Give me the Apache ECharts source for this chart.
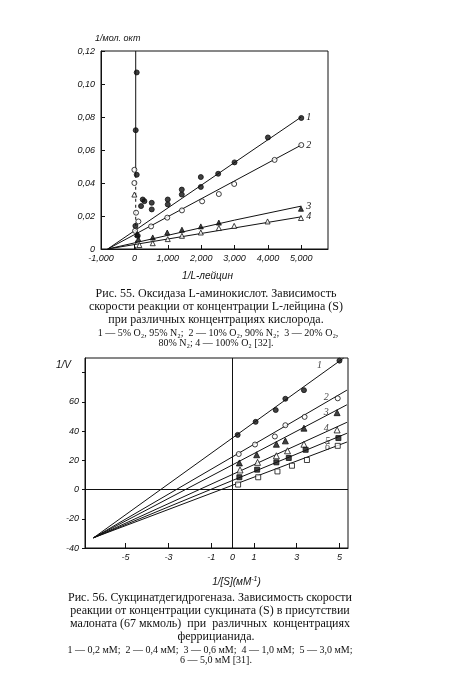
<!DOCTYPE html>
<html>
<head>
<meta charset="utf-8">
<script src="https://cdn.jsdelivr.net/npm/echarts@6/dist/echarts.min.js"></script>
<style>
  html, body { margin: 0; padding: 0; background: #fff; }
  #chart { width: 450px; height: 679px; }
</style>
</head>
<body>
<div id="chart"></div>
<script>
  // ---- fig. 55: L-amino acid oxidase, 1/v vs 1/[L-leucine] ----
  var topXTicks = [-1000, 0, 1000, 2000, 3000, 4000, 5000]
  var topXLabels = ['-1,000', '0', '1,000', '2,000', '3,000', '4,000', '5,000']
  var topYTicks = [0, 0.02, 0.04, 0.06, 0.08, 0.1, 0.12]
  var topYLabels = ['0', '0,02', '0,04', '0,06', '0,08', '0,10', '0,12']
  var topNames = ['1', '2', '3', '4']

  var o2Pts1 = [[70, 0.107], [40, 0.072], [70, 0.045], [30, 0.014], [100, 0.008], [200, 0.026],
    [250, 0.030], [300, 0.029], [520, 0.028], [520, 0.024], [1000, 0.030], [1000, 0.027],
    [1420, 0.036], [1420, 0.033], [1990, 0.0436], [1990, 0.0376], [2510, 0.0456],
    [3000, 0.0525], [4000, 0.0676], [5000, 0.0794]]
  var o2Pts2 = [[0, 0.048], [0, 0.040], [50, 0.022], [120, 0.0167], [20, 0.011], [500, 0.0137],
    [985, 0.019], [1425, 0.0234], [2030, 0.0289], [2530, 0.0333], [2990, 0.0394],
    [4200, 0.054], [5000, 0.063]]
  var o2Pts3 = [[80, 0.009], [120, 0.006], [550, 0.007], [985, 0.010], [1425, 0.0117],
    [1990, 0.0137], [2530, 0.016], [4990, 0.0244]]
  var o2Pts4 = [[0, 0.033], [150, 0.0024], [550, 0.0035], [1000, 0.006], [1425, 0.008],
    [1990, 0.010], [2530, 0.0127], [2990, 0.014], [3990, 0.0167], [4990, 0.0188]]

  var o2Line1 = [[-800, 0], [5000, 0.080]]
  var o2Line2 = [[-800, 0], [5000, 0.063]]
  var o2Line3 = [[-800, 0], [3000, 0.0175], [5000, 0.026]]
  var o2Line4 = [[-800, 0], [5000, 0.0195]]
  var o2Vert = [[40, 0.12], [40, 0.045]]
  var o2VertDash = [[40, 0.045], [40, 0]]

  // ---- fig. 56: succinate dehydrogenase, 1/V vs 1/[S] ----
  var botXTicks = [-5, -3, -1, 0, 1, 3, 5]
  var botXLabels = ['-5', '-3', '-1', '0', '1', '3', '5']
  var botYTicks = [-40, -20, 0, 20, 40, 60, 80]
  var botYLabels = ['-40', '-20', '0', '20', '40', '60', '']
  var botNames = ['1', '2', '3', '4', '5', '6']

  var fePts1 = [[0.24, 37.4], [1.08, 46.3], [2.02, 54.4], [2.47, 62.1], [3.34, 68], [5.0, 88.2]]
  var fePts2 = [[0.29, 24.3], [1.05, 30.8], [1.98, 36.3], [2.47, 44], [3.37, 49.7], [4.92, 62.4]]
  var fePts3 = [[0.32, 18.2], [1.13, 23.8], [2.05, 31], [2.47, 33.3], [3.34, 42], [4.89, 52.6]]
  var fePts4 = [[0.35, 13.4], [1.17, 18.6], [2.05, 23.1], [2.57, 26.5], [3.34, 31], [4.89, 40.8]]
  var fePts5 = [[0.32, 8.4], [1.15, 13.6], [2.05, 18.6], [2.63, 21.6], [3.42, 27.2], [4.95, 35.2]]
  var fePts6 = [[0.26, 3.4], [1.2, 8.4], [2.1, 12.4], [2.78, 16.3], [3.48, 20.2], [4.92, 29.9]]

  var feStart = [-6.5, -33]
  var feEnds = [[5.2, 90], [5.35, 68], [5.35, 58], [5.35, 46], [5.35, 38.5], [5.35, 32.5]]
  var feLabelPos = [[4.07, 85], [4.38, 63], [4.38, 53], [4.38, 42], [4.44, 33], [4.44, 29]]

  var ink = '#111'
  var tickFont = { color: ink, fontSize: 9, fontStyle: 'italic', fontFamily: 'Liberation Sans' }

  function pickLabel(ticks, labels) {
    return function (v) {
      var i = ticks.findIndex(function (t) { return Math.abs(t - v) < 1e-9 })
      return i < 0 ? '' : labels[i]
    }
  }

  function pts(name, data, symbol, filled, xi, size) {
    return {
      name: name,
      type: 'scatter',
      xAxisIndex: xi,
      yAxisIndex: xi,
      data: data,
      symbol: symbol,
      symbolSize: size || 5,
      itemStyle: filled
        ? { color: ink, borderColor: ink, borderWidth: 1 }
        : { color: '#fff', borderColor: ink, borderWidth: 1 },
      z: 5
    }
  }

  function line(data, xi, opts) {
    opts = opts || {}
    var s = {
      type: 'line',
      xAxisIndex: xi,
      yAxisIndex: xi,
      data: data,
      showSymbol: false,
      symbol: 'none',
      silent: true,
      animation: false,
      lineStyle: { color: ink, width: 1, type: opts.dash ? [3, 3] : 'solid' }
    }
    if (opts.endLabel) {
      s.endLabel = {
        show: true,
        formatter: opts.endLabel,
        color: ink,
        fontSize: 10,
        fontStyle: 'italic',
        fontFamily: 'Liberation Serif',
        distance: 5
      }
    }
    return s
  }

  var series = [
    line(o2Line1, 0, { endLabel: topNames[0] }),
    line(o2Line2, 0, { endLabel: topNames[1] }),
    line(o2Line3, 0, { endLabel: topNames[2] }),
    line(o2Line4, 0, { endLabel: topNames[3] }),
    line(o2Vert, 0),
    line(o2VertDash, 0, { dash: true }),
    pts('1', o2Pts1, 'circle', true, 0),
    pts('2', o2Pts2, 'circle', false, 0),
    pts('3', o2Pts3, 'triangle', true, 0),
    pts('4', o2Pts4, 'triangle', false, 0)
  ]

  feEnds.forEach(function (end) {
    series.push(line([feStart, end], 1))
  })
  series.push(pts('1', fePts1, 'circle', true, 1))
  series.push(pts('2', fePts2, 'circle', false, 1))
  series.push(pts('3', fePts3, 'triangle', true, 1, 6))
  series.push(pts('4', fePts4, 'triangle', false, 1, 6))
  series.push(pts('5', fePts5, 'rect', true, 1))
  series.push(pts('6', fePts6, 'rect', false, 1))
  // curve numbers on the lower chart
  series.push({
    type: 'scatter',
    xAxisIndex: 1,
    yAxisIndex: 1,
    symbolSize: 0,
    silent: true,
    data: feLabelPos.map(function (p, i) { return { value: p, name: botNames[i] } }),
    label: {
      show: true,
      position: 'inside',
      formatter: '{b}',
      color: ink,
      fontSize: 10,
      fontStyle: 'italic',
      fontFamily: 'Liberation Serif'
    }
  })
  // axes through zero on the lower chart
  series.push({
    type: 'line',
    xAxisIndex: 1,
    yAxisIndex: 1,
    data: [],
    markLine: {
      silent: true,
      symbol: 'none',
      animation: false,
      label: { show: false },
      lineStyle: { color: ink, type: 'solid', width: 1 },
      data: [{ xAxis: 0 }, { yAxis: 0 }]
    }
  })

  function capText(text, x, y, size) {
    return {
      type: 'text',
      x: x,
      y: y,
      style: {
        text: text,
        fill: ink,
        font: (size || 11) + 'px "Liberation Serif"',
        textAlign: 'center',
        textVerticalAlign: 'middle'
      }
    }
  }

  var chart = echarts.init(document.getElementById('chart'))
  chart.setOption({
    backgroundColor: '#fff',
    animation: false,
    grid: [
      { left: 101, top: 51, width: 227, height: 198, show: true, borderColor: ink, borderWidth: 1 },
      { left: 85, top: 358, width: 263, height: 190, show: true, borderColor: ink, borderWidth: 1 }
    ],
    xAxis: [
      {
        gridIndex: 0,
        type: 'value',
        min: -1000,
        max: 5800,
        name: '1/L-лейцин',
        nameLocation: 'middle',
        nameGap: 22,
        nameTextStyle: { color: ink, fontSize: 10, fontStyle: 'italic', fontFamily: 'Liberation Sans', padding: [0, 14, 0, 0] },
        axisLine: { onZero: false, lineStyle: { color: ink } },
        splitLine: { show: false },
        axisTick: { inside: true, length: 4, customValues: topXTicks, lineStyle: { color: ink } },
        axisLabel: Object.assign({ customValues: topXTicks, formatter: pickLabel(topXTicks, topXLabels), margin: 5 }, tickFont)
      },
      {
        gridIndex: 1,
        type: 'value',
        min: -6.9,
        max: 5.4,
        name: '1/[S](мМ{sup|-1})',
        nameLocation: 'middle',
        nameGap: 28,
        nameTextStyle: {
          color: ink, fontSize: 10, fontStyle: 'italic', fontFamily: 'Liberation Sans', padding: [0, 0, 0, 40],
          rich: { sup: { fontSize: 7, fontStyle: 'italic', verticalAlign: 'top', padding: [0, 0, 5, 0], color: ink } }
        },
        axisLine: { onZero: false, lineStyle: { color: ink } },
        splitLine: { show: false },
        axisTick: { inside: true, length: 5, customValues: botXTicks, lineStyle: { color: ink } },
        axisLabel: Object.assign({ customValues: botXTicks, formatter: pickLabel(botXTicks, botXLabels), margin: 5 }, tickFont)
      }
    ],
    yAxis: [
      {
        gridIndex: 0,
        type: 'value',
        min: 0,
        max: 0.12,
        name: '1/мол. окт',
        nameLocation: 'end',
        nameGap: 8,
        nameTextStyle: { color: ink, fontSize: 9, fontStyle: 'italic', fontFamily: 'Liberation Sans', align: 'left', padding: [0, 0, 0, -6] },
        axisLine: { onZero: false, lineStyle: { color: ink, width: 1 } },
        splitLine: { show: false },
        axisTick: { inside: true, length: 4, customValues: topYTicks, lineStyle: { color: ink } },
        axisLabel: Object.assign({ customValues: topYTicks, formatter: pickLabel(topYTicks, topYLabels), margin: 6 }, tickFont)
      },
      {
        gridIndex: 1,
        type: 'value',
        min: -40,
        max: 90,
        name: '1/V',
        nameLocation: 'end',
        nameGap: -12,
        nameTextStyle: { color: ink, fontSize: 10, fontStyle: 'italic', fontFamily: 'Liberation Sans', align: 'right', padding: [0, 14, 0, 0] },
        axisLine: { onZero: false, lineStyle: { color: ink, width: 1 } },
        splitLine: { show: false },
        axisTick: { inside: false, length: 3, customValues: botYTicks, lineStyle: { color: ink } },
        axisLabel: Object.assign({ customValues: botYTicks, formatter: pickLabel(botYTicks, botYLabels), margin: 6 }, tickFont)
      }
    ],
    series: series,
    graphic: [
      capText('Рис. 55. Оксидаза L-аминокислот. Зависимость', 216, 294, 12),
      capText('скорости реакции от концентрации L-лейцина (S)', 216, 307, 12),
      capText('при различных концентрациях кислорода.', 216, 320, 12),
      capText('1 — 5% O₂, 95% N₂;  2 — 10% O₂, 90% N₂;  3 — 20% O₂,', 218, 333, 10),
      capText('80% N₂; 4 — 100% O₂ [32].', 216, 343, 10),
      capText('Рис. 56. Сукцинатдегидрогеназа. Зависимость скорости', 210, 598, 12),
      capText('реакции от концентрации сукцината (S) в присутствии', 210, 611, 12),
      capText('малоната (67 мкмоль)  при  различных  концентрациях', 210, 624, 12),
      capText('феррицианида.', 216, 637, 12),
      capText('1 — 0,2 мМ;  2 — 0,4 мМ;  3 — 0,6 мМ;  4 — 1,0 мМ;  5 — 3,0 мМ;', 210, 650, 10),
      capText('6 — 5,0 мМ [31].', 216, 660, 10)
    ]
  })
</script>
</body>
</html>
